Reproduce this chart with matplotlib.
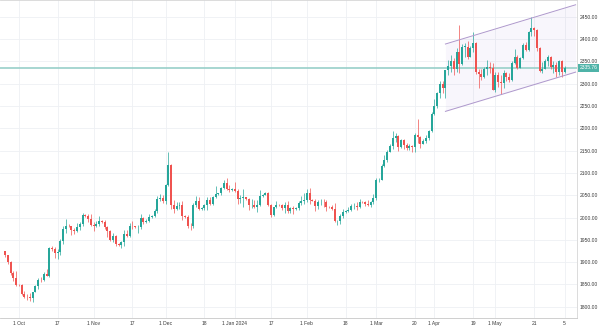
import numpy as np
import pandas as pd
import matplotlib
matplotlib.use("Agg")
import matplotlib.pyplot as plt
from matplotlib.ticker import MultipleLocator, FormatStrFormatter

# daily gold candles; the feed still has short Sunday bars until the DST switch in March
weekdays = pd.bdate_range("2023-09-25", "2024-06-05")
sundays = pd.date_range("2023-10-01", "2024-03-03", freq="W-SUN")
holidays = pd.to_datetime(["2023-12-25", "2024-01-01", "2024-03-29"])
dates = weekdays.union(sundays).drop(holidays)

opens = [
    1925, 1916, 1901, 1875, 1865,
    1849, 1848, 1828, 1822, 1821, 1820, 1833, 1846, 1861, 1860, 1874, 1869, 1932, 1930,
    1920, 1923, 1947, 1974, 1981, 1980, 1973, 1970, 1979, 1985, 2006, 2004, 1996,
    1983, 1982, 1986, 1992, 1990, 1978, 1969, 1950, 1958, 1940, 1938, 1946, 1963,
    1959, 1981, 1980, 1978, 1978, 1998, 1990, 1992, 2002, 2004, 2014, 2041, 2044,
    2036, 2072, 2118, 2029, 2019, 2025, 2028, 2004, 2002, 1982, 1980, 2027, 2036,
    2019, 2022, 2027, 2040, 2031, 2045, 2053, 2054, 2067, 2077, 2065, 2062,
    2064, 2059, 2041, 2043, 2045, 2042, 2027, 2029, 2024, 2029, 2049, 2051, 2055,
    2028, 2006, 2023, 2029, 2027, 2021, 2029, 2014, 2021, 2018, 2022, 2032, 2037,
    2039, 2054, 2039, 2038, 2025, 2035, 2035, 2034, 2024, 2023, 2020, 1992, 1992,
    2004, 2013, 2014, 2017, 2025, 2025, 2024, 2035, 2034, 2031, 2029, 2034,
    2044, 2083, 2085, 2115, 2128, 2148, 2160, 2179, 2182, 2158, 2174, 2162, 2156,
    2160, 2157, 2186, 2181, 2165, 2171, 2178, 2194,
    2233, 2251, 2280, 2300, 2290, 2330, 2339, 2352, 2333, 2372, 2344, 2383, 2383,
    2361, 2379, 2392, 2327, 2322, 2316, 2332, 2337, 2335,
    2286, 2320, 2303, 2301, 2323, 2314, 2309, 2346, 2360, 2336, 2358, 2386, 2376,
    2415, 2425, 2421, 2379, 2329, 2334, 2350, 2361, 2338, 2343, 2327, 2350, 2327,
]
highs = [
    1926, 1917, 1903, 1880, 1879,
    1851, 1850, 1836, 1829, 1830, 1834, 1848, 1865, 1867, 1877, 1885, 1933, 1936, 1933,
    1930, 1951, 1980, 1997, 1985, 1982, 1976, 1988, 1991, 2010, 2009, 2009, 2008,
    1991, 1993, 2004, 1995, 1994, 1982, 1972, 1965, 1961, 1942, 1947, 1971, 1971,
    1988, 1993, 1982, 1984, 2007, 2002, 1997, 2009, 2006, 2018, 2048, 2052, 2051,
    2075, 2146, 2120, 2040, 2034, 2034, 2036, 2006, 2005, 1988, 2032, 2048, 2047,
    2024, 2030, 2047, 2047, 2048, 2071, 2056, 2069, 2084, 2088, 2073, 2066,
    2079, 2063, 2050, 2064, 2047, 2044, 2041, 2040, 2040, 2062, 2053, 2058, 2058,
    2031, 2024, 2036, 2031, 2031, 2034, 2037, 2024, 2026, 2024, 2036, 2048, 2055,
    2065, 2066, 2041, 2041, 2039, 2042, 2041, 2040, 2026, 2028, 2032, 1995, 2007,
    2019, 2016, 2024, 2031, 2033, 2035, 2041, 2037, 2038, 2040, 2037, 2052,
    2088, 2088, 2119, 2141, 2152, 2165, 2195, 2189, 2185, 2175, 2175, 2167, 2165,
    2162, 2189, 2222, 2182, 2176, 2185, 2196, 2236,
    2266, 2281, 2305, 2305, 2331, 2354, 2365, 2358, 2379, 2431, 2388, 2392, 2396,
    2384, 2417, 2393, 2334, 2334, 2338, 2353, 2348, 2346,
    2326, 2326, 2319, 2331, 2327, 2323, 2352, 2378, 2364, 2359, 2391, 2394, 2418,
    2450, 2427, 2423, 2382, 2348, 2356, 2364, 2363, 2351, 2349, 2354, 2353, 2340,
]
lows = [
    1912, 1896, 1872, 1857, 1846,
    1846, 1827, 1820, 1816, 1813, 1810, 1832, 1840, 1855, 1857, 1868, 1867, 1925, 1910,
    1907, 1917, 1941, 1965, 1978, 1961, 1962, 1967, 1971, 1982, 2001, 1991, 1980,
    1970, 1978, 1980, 1988, 1974, 1956, 1947, 1945, 1936, 1936, 1932, 1936, 1956,
    1957, 1974, 1976, 1965, 1975, 1985, 1987, 1989, 2000, 2001, 2010, 2037, 2032,
    2030, 2070, 2018, 2010, 2016, 2018, 1995, 2000, 1976, 1973, 1977, 2024, 2017,
    2017, 2016, 2017, 2028, 2027, 2044, 2051, 2051, 2063, 2061, 2058, 2060,
    2057, 2031, 2033, 2024, 2040, 2016, 2022, 2021, 2013, 2025, 2047, 2050, 2025,
    2002, 2004, 2021, 2026, 2016, 2011, 2011, 2010, 2009, 2016, 2017, 2029, 2030,
    2035, 2030, 2036, 2015, 2020, 2029, 2024, 2015, 2021, 2016, 1990, 1984, 1985,
    1998, 2011, 2013, 2014, 2020, 2016, 2022, 2032, 2025, 2025, 2024, 2030,
    2040, 2080, 2083, 2114, 2125, 2146, 2154, 2170, 2150, 2155, 2154, 2152, 2151,
    2146, 2148, 2167, 2156, 2164, 2168, 2174, 2192,
    2229, 2245, 2269, 2280, 2267, 2320, 2326, 2319, 2326, 2325, 2341, 2360, 2355,
    2359, 2371, 2322, 2291, 2309, 2313, 2320, 2325, 2285,
    2282, 2293, 2277, 2291, 2307, 2303, 2306, 2345, 2332, 2335, 2355, 2373, 2373,
    2407, 2408, 2374, 2326, 2325, 2333, 2340, 2334, 2323, 2314, 2320, 2315, 2325,
]
closes = [
    1916, 1901, 1875, 1865, 1849,
    1848, 1828, 1822, 1821, 1820, 1833, 1846, 1861, 1860, 1874, 1869, 1932, 1930, 1920,
    1923, 1947, 1974, 1981, 1980, 1973, 1970, 1979, 1985, 2006, 2004, 1996, 1983,
    1982, 1986, 1992, 1990, 1978, 1969, 1950, 1958, 1940, 1938, 1946, 1963, 1959,
    1981, 1980, 1978, 1978, 1998, 1990, 1992, 2002, 2004, 2014, 2041, 2044, 2036,
    2072, 2118, 2029, 2019, 2025, 2028, 2004, 2002, 1982, 1980, 2027, 2036, 2019,
    2022, 2027, 2040, 2031, 2045, 2053, 2054, 2067, 2077, 2065, 2062, 2064,
    2059, 2041, 2043, 2045, 2042, 2027, 2029, 2024, 2029, 2049, 2051, 2055, 2028,
    2006, 2023, 2029, 2027, 2021, 2029, 2014, 2021, 2018, 2022, 2032, 2037, 2039,
    2054, 2039, 2038, 2025, 2035, 2035, 2034, 2024, 2023, 2020, 1992, 1992, 2004,
    2013, 2014, 2017, 2025, 2025, 2024, 2035, 2034, 2031, 2029, 2034, 2044,
    2083, 2085, 2115, 2128, 2148, 2160, 2179, 2182, 2158, 2174, 2162, 2156, 2160,
    2157, 2186, 2181, 2165, 2171, 2178, 2194, 2233,
    2251, 2280, 2300, 2290, 2330, 2339, 2352, 2333, 2372, 2344, 2383, 2383, 2361,
    2379, 2392, 2327, 2322, 2316, 2332, 2337, 2335, 2286,
    2320, 2303, 2301, 2323, 2314, 2309, 2346, 2360, 2336, 2358, 2386, 2376, 2415,
    2425, 2421, 2379, 2329, 2334, 2350, 2361, 2338, 2343, 2327, 2350, 2327, 2335.76,
]

tick_dates = ["2023-10-01", "2023-10-17", "2023-11-01", "2023-11-17", "2023-12-01",
              "2023-12-18", "2024-01-02", "2024-01-17", "2024-02-01", "2024-02-18",
              "2024-03-01", "2024-03-20", "2024-04-01", "2024-04-19", "2024-05-01",
              "2024-05-21", "2024-06-05"]
tick_labels = ["1 Oct", "17", "1 Nov", "17", "1 Dec", "18", "1 Jan 2024", "17", "1 Feb",
               "18", "1 Mar", "20", "1 Apr", "19", "1 May", "21", "5"]

# rising channel drawn from early April, anchored at its first and last bar
channel_start = "2024-04-05"
channel_bars = 47
channel_top = [2389, 2477]
channel_bottom = [2238, 2326]

UP = "#26a69a"
DOWN = "#ef5350"
GRID = "#eef0f4"
TEXT = "#3a3a3a"

plt.rcParams["font.family"] = ["Liberation Sans", "DejaVu Sans"]

o = np.array(opens, dtype=float)
h = np.array(highs, dtype=float)
l = np.array(lows, dtype=float)
c = np.array(closes, dtype=float)
x = np.arange(len(dates))

fig = plt.figure(figsize=(6, 3.29), dpi=100)
ax = fig.add_axes([0, 11 / 329, 577 / 600, 318 / 329])

colors = np.where(c >= o, UP, DOWN)
ax.vlines(x, l, h, colors=colors, lw=0.5, zorder=3)
body = np.maximum(np.abs(c - o), 0.8)
ax.bar(x, body, bottom=np.minimum(o, c), width=0.72, color=colors, lw=0, zorder=4)

# channel
cx = dates.get_loc(pd.Timestamp(channel_start)) + np.array([0, channel_bars])
ax.fill_between(cx, channel_bottom, channel_top, color="#9575cd", alpha=0.06, lw=0, zorder=2)
ax.plot(cx, channel_top, color="#ae98cc", lw=0.7, zorder=5)
ax.plot(cx, channel_bottom, color="#ae98cc", lw=0.7, zorder=5)

# last price line + label on the price scale
last = closes[-1]
ax.axhline(last, color="#98d0c9", lw=1.2, zorder=2.5)
ax.text(1.004, last, f"{last:.2f}", transform=ax.get_yaxis_transform(),
        ha="left", va="center", fontsize=3.6, color="white", clip_on=False,
        bbox=dict(boxstyle="square,pad=0.3", fc="#4fb3a8", ec="none"))

ax.set_xlim(-1.8, 206.5)
ax.set_ylim(1774.7, 2487.7)

tick_idx = [dates.get_loc(pd.Timestamp(d)) for d in tick_dates]
ax.set_xticks(tick_idx, tick_labels)
ax.yaxis.tick_right()
ax.yaxis.set_major_locator(MultipleLocator(50))
ax.yaxis.set_major_formatter(FormatStrFormatter("%.2f"))
ax.tick_params(axis="x", length=0, pad=2.5, labelsize=3.6, labelcolor=TEXT)
ax.tick_params(axis="y", length=0, pad=2, labelsize=3.6, labelcolor=TEXT)

ax.grid(True, color=GRID, lw=0.6)
ax.set_axisbelow(True)
ax.spines["left"].set_visible(False)
ax.spines["top"].set_color("#d6d6d6")
ax.spines["right"].set_color("#d6d6d6")
ax.spines["bottom"].set_color("#c8c8c8")
for s in ax.spines.values():
    s.set_linewidth(0.6)

fig.savefig("out.png", dpi=100, facecolor="white")
